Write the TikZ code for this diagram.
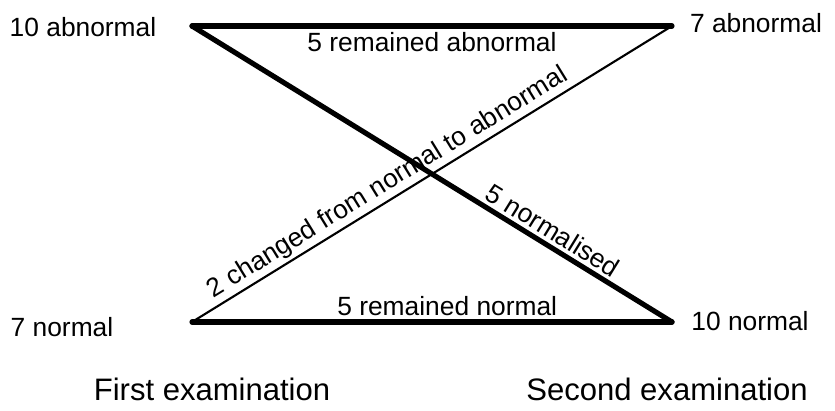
\documentclass[tikz,border=0pt]{standalone}
\usepackage{fontspec}
\setmainfont{Liberation Sans}
\usetikzlibrary{positioning}

\begin{document}
\begin{tikzpicture}[x=0.03cm,y=-0.03cm,
    every node/.style={font=\fontsize{22.5}{27}\selectfont,inner sep=2pt},
    caption/.style={font=\fontsize{26.5}{32}\selectfont,anchor=base},
    heavy/.style={line width=4.4pt,line cap=round,line join=round},
    light/.style={line width=1.8pt,line cap=round}]
\useasboundingbox (0,0) rectangle (835,410);
\coordinate (TL) at (192,26);
\coordinate (TR) at (672,26);
\coordinate (BL) at (192,322);
\coordinate (BR) at (672,322);

\node (tla) at (83,27) {10 abnormal};
\node (tra) at (756,23) {7 abnormal};
\node (bln) at (62,327) {7 normal};
\node (brn) at (750,321) {10 normal};
\node[caption] (first) at (212,400) {First examination};
\node[caption] (second) at (667,400) {Second examination};

\draw[light] (BL) -- node[pos=0.425,sloped,above=0pt] (chg) {2 changed from normal to abnormal} (TR);
\draw[heavy] (TL) -- node[below=1pt] (remab) {5 remained abnormal} (TR);
\draw[heavy] (BL) -- node[above=1pt,xshift=13pt] (remno) {5 remained normal} (BR);
\draw[heavy] (TL) -- node[pos=0.735,sloped,above=1pt] (norm) {5 normalised} (BR);
\end{tikzpicture}
\end{document}
